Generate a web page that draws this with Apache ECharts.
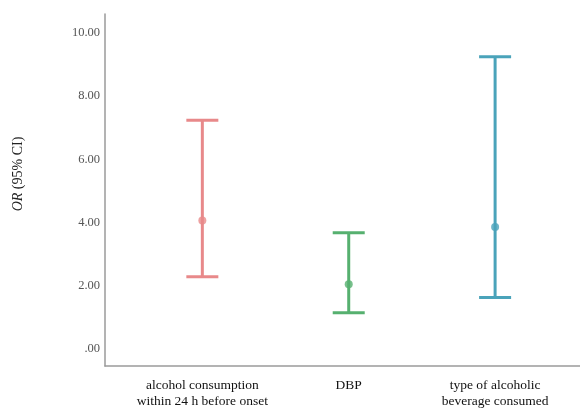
<!DOCTYPE html>
<html>
<head>
<meta charset="utf-8">
<script src="https://cdn.jsdelivr.net/npm/echarts@6/dist/echarts.min.js"></script>
<style>html,body{margin:0;padding:0;background:#fff;}#c{width:580px;height:409px;}</style>
</head>
<body>
<div id="c"></div>
<script>
var categories = ['alcohol consumption\nwithin 24 h before onset', 'DBP', 'type of alcoholic\nbeverage consumed'];
var orValues = [4.07, 2.05, 3.86];
var lowerCI = [2.29, 1.15, 1.63];
var upperCI = [7.24, 3.68, 9.25];
var yTickValues = [0, 2, 4, 6, 8, 10];
var yTickLabels = ['.00', '2.00', '4.00', '6.00', '8.00', '10.00'];
var colors = ['#E8898A', '#56B06F', '#4AA3BA'];

var catPos = categories.map(function (c, i) { return i + 1; });
var errData = categories.map(function (c, i) { return [catPos[i], lowerCI[i], upperCI[i]]; });
var meanData = categories.map(function (c, i) {
  return { value: [catPos[i], orValues[i]], itemStyle: { color: colors[i] } };
});

var chart = echarts.init(document.getElementById('c'));
chart.setOption({
  animation: false,
  grid: { left: 105, right: 0, top: 14, bottom: 40 },
  graphic: [{
    type: 'text',
    x: 18, y: 174,
    rotation: Math.PI / 2,
    style: {
      text: '{i|OR} (95% CI)',
      align: 'center', verticalAlign: 'middle',
      fontFamily: 'Liberation Serif', fontSize: 14, fill: '#222',
      rich: { i: { fontStyle: 'italic', fontFamily: 'Liberation Serif', fontSize: 14, color: '#222' } }
    }
  }],
  xAxis: {
    type: 'value', min: 0.335, max: 3.58,
    splitLine: { show: false },
    axisTick: { show: false },
    axisLine: { show: true, onZero: false, lineStyle: { color: '#9a9a9a', width: 1.5 } },
    axisLabel: {
      customValues: catPos,
      formatter: function (v) { return categories[Math.round(v) - 1] || ''; },
      color: '#111', fontFamily: 'Liberation Serif', fontSize: 13.5, lineHeight: 16, margin: 11
    }
  },
  yAxis: {
    type: 'value', min: -0.533, max: 10.6,
    splitLine: { show: false },
    axisTick: { show: false },
    axisLine: { show: true, onZero: false, lineStyle: { color: '#9a9a9a', width: 1.5 } },
    axisLabel: {
      customValues: yTickValues,
      formatter: function (v) { var i = yTickValues.indexOf(Math.round(v)); return i >= 0 ? yTickLabels[i] : ''; },
      color: '#555', fontFamily: 'Liberation Serif', fontSize: 12.5, margin: 5
    }
  },
  series: [
    {
      type: 'custom',
      data: errData,
      renderItem: function (params, api) {
        var i = params.dataIndex;
        var x = api.value(0);
        var lo = api.coord([x, api.value(1)]);
        var hi = api.coord([x, api.value(2)]);
        var half = 16;
        var st = { stroke: colors[i], lineWidth: 3, fill: null };
        return {
          type: 'group',
          children: [
            { type: 'line', shape: { x1: lo[0], y1: lo[1], x2: hi[0], y2: hi[1] }, style: st },
            { type: 'line', shape: { x1: lo[0] - half, y1: lo[1], x2: lo[0] + half, y2: lo[1] }, style: st },
            { type: 'line', shape: { x1: hi[0] - half, y1: hi[1], x2: hi[0] + half, y2: hi[1] }, style: st }
          ]
        };
      }
    },
    {
      type: 'scatter',
      data: meanData,
      symbol: 'circle',
      symbolSize: 8,
      z: 3
    }
  ]
});
</script>
</body>
</html>
